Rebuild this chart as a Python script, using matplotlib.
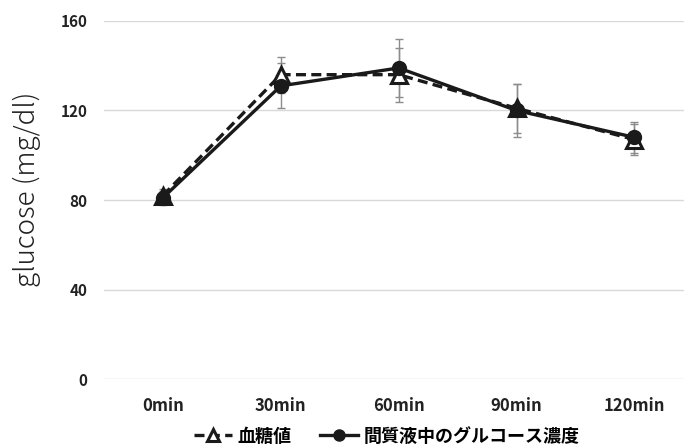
import matplotlib.pyplot as plt
import numpy as np

plt.rcParams['font.family'] = ['Noto Sans CJK JP', 'DejaVu Sans']

# data
times = ['0min', '30min', '60min', '90min', '120min']
blood = [82, 136, 136, 121, 107]          # 血糖値
blood_err = [3, 8, 12, 11, 7]
isf = [81, 131, 139, 120, 108]            # 間質液中のグルコース濃度
isf_err = [3, 10, 13, 12, 7]

x = np.arange(len(times))

fig = plt.figure(figsize=(6.84, 4.46), dpi=100)
ax = fig.add_axes([0.152, 0.150, 0.848, 0.803])

# error bars first, in grey
ax.errorbar(x, blood, yerr=blood_err, fmt='none', ecolor='#8c8c8c',
            elinewidth=1, capsize=3, capthick=1, zorder=2)
ax.errorbar(x, isf, yerr=isf_err, fmt='none', ecolor='#8c8c8c',
            elinewidth=1, capsize=3, capthick=1, zorder=2)

# the two series
ax.plot(x, blood, color='#1a1a1a', linewidth=2.4, linestyle=(0, (3, 1.6)),
        marker='^', markersize=11, markerfacecolor='white',
        markeredgecolor='#1a1a1a', markeredgewidth=2.2,
        label='血糖値', zorder=3)
ax.plot(x, isf, color='#1a1a1a', linewidth=2.4, linestyle='-',
        marker='o', markersize=10, markerfacecolor='#1a1a1a',
        markeredgecolor='#1a1a1a', label='間質液中のグルコース濃度', zorder=4)

# axes range and ticks
ax.set_xlim(-0.5, 4.42)
ax.set_ylim(0, 160)
ax.set_yticks([0, 40, 80, 120, 160])
ax.set_xticks(x)
ax.set_xticklabels(times, fontsize=12, fontweight='bold', color='#222222')
for lab in ax.get_yticklabels():
    lab.set_fontsize(11)
    lab.set_fontweight('bold')
    lab.set_color('#222222')
ax.tick_params(axis='x', length=0, pad=13)
ax.tick_params(axis='y', length=0, pad=12)

# grid, no spines
ax.grid(axis='y', color='#d9d9d9', linewidth=1)
ax.set_axisbelow(True)
for s in ax.spines.values():
    s.set_visible(False)

fig.text(0.04, 0.575, 'glucose (mg/dl)', rotation=90, fontsize=20,
         fontweight='light', color='#222222', ha='center', va='center')

leg = fig.legend(loc='lower center', bbox_to_anchor=(0.565, -0.036), ncol=2,
                 frameon=False, handlelength=2.1, columnspacing=1.6,
                 handletextpad=0.3,
                 prop={'size': 13, 'weight': 'bold'})
for h in leg.legend_handles:
    h.set_markersize(8)

plt.savefig('out.png', dpi=100)
